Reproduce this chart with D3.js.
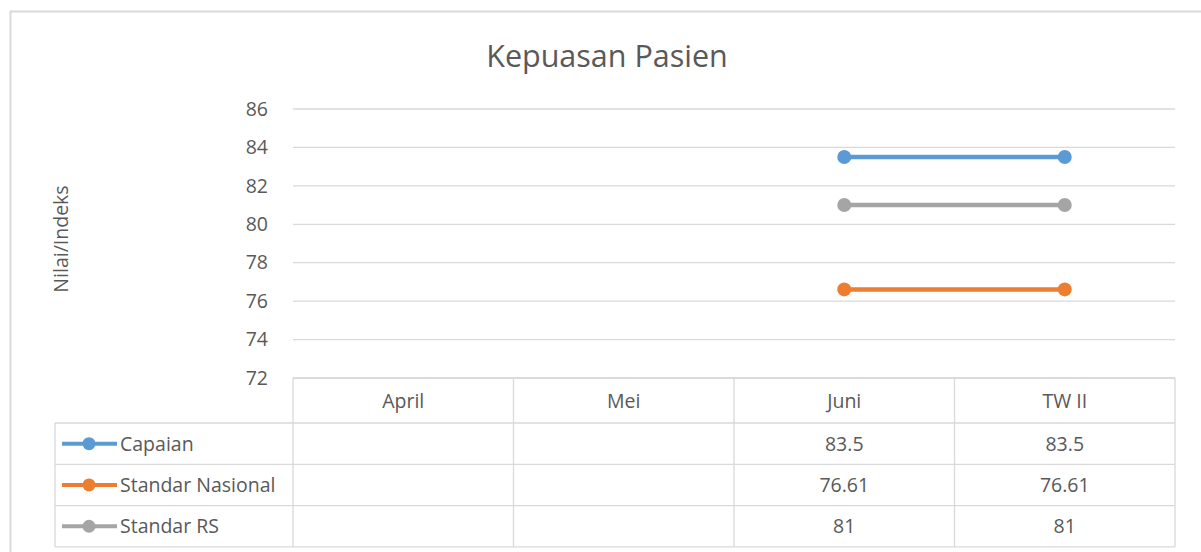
<!DOCTYPE html>
<html>
<head>
<meta charset="utf-8">
<script src="https://cdn.jsdelivr.net/npm/d3@7"></script>
<style>
  body { margin: 0; background: #fff; }
  svg { display: block; font-family: "Open Sans", sans-serif; }
  .grid line { stroke: #d9d9d9; stroke-width: 1.3; }
  .cell { stroke: #d9d9d9; stroke-width: 1.3; fill: none; }
</style>
</head>
<body>
<svg id="chart" width="1201" height="552"></svg>
<script>
// chart data
var categories = ["April", "Mei", "Juni", "TW II"];
var series_names = ["Capaian", "Standar Nasional", "Standar RS"];
var capaian = [null, null, 83.5, 83.5];
var standar_nasional = [null, null, 76.61, 76.61];
var standar_rs = [null, null, 81, 81];
var y_ticks = [72, 74, 76, 78, 80, 82, 84, 86];

var series = [
  {name: series_names[0], values: capaian, color: "#5b9bd5"},
  {name: series_names[1], values: standar_nasional, color: "#ed7d31"},
  {name: series_names[2], values: standar_rs, color: "#a5a5a5"}
];

var svg = d3.select("#chart");
var text_color = "#595959";
var fs = 19.5;

var plot = {left: 293, right: 1175, top: 109, bottom: 378};
var row_h = 41.3, header_h = 45, legend_left = 55;

// outer chart border (runs past the image edge)
svg.append("rect")
    .attr("x", 10.5).attr("y", 11.5)
    .attr("width", 1220).attr("height", 600)
    .attr("fill", "none").attr("stroke", "#d9d9d9").attr("stroke-width", 2);

svg.append("text")
    .attr("x", 607).attr("y", 67)
    .attr("text-anchor", "middle")
    .attr("font-size", 30.5)
    .attr("fill", text_color)
    .text("Kepuasan Pasien");

var x = d3.scaleBand()
    .domain(categories)
    .range([plot.left, plot.right]);

var y = d3.scaleLinear()
    .domain([72, 86])
    .range([plot.bottom, plot.top]);

// gridlines
svg.append("g").attr("class", "grid")
  .selectAll("line")
  .data(y_ticks)
  .enter().append("line")
    .attr("x1", plot.left).attr("x2", plot.right)
    .attr("y1", function(d) { return y(d); })
    .attr("y2", function(d) { return y(d); });

// y axis labels
var yAxis = d3.axisLeft(y).tickValues(y_ticks).tickSize(0).tickPadding(0);
var gy = svg.append("g")
    .attr("transform", "translate(268,0)")
    .call(yAxis);
gy.select(".domain").remove();
gy.selectAll("text")
    .attr("font-family", "Open Sans, sans-serif")
    .attr("font-size", fs)
    .attr("fill", text_color);

svg.append("text")
    .attr("transform", "translate(68,239) rotate(-90)")
    .attr("text-anchor", "middle")
    .attr("font-size", fs)
    .attr("fill", text_color)
    .text("Nilai/Indeks");

// data table
var table = svg.append("g");
var table_bottom = plot.bottom + header_h + row_h * series.length;

// horizontal lines
table.append("line").attr("class", "cell")
    .attr("x1", plot.left).attr("x2", plot.right)
    .attr("y1", plot.bottom).attr("y2", plot.bottom);
d3.range(series.length + 1).forEach(function(i) {
  var yy = plot.bottom + header_h + row_h * i;
  table.append("line").attr("class", "cell")
      .attr("x1", legend_left).attr("x2", plot.right)
      .attr("y1", yy).attr("y2", yy);
});

// vertical lines
var col_edges = categories.map(function(c) { return x(c); }).concat([plot.right]);
col_edges.forEach(function(xx) {
  table.append("line").attr("class", "cell")
      .attr("x1", xx).attr("x2", xx)
      .attr("y1", plot.bottom).attr("y2", table_bottom);
});
table.append("line").attr("class", "cell")
    .attr("x1", legend_left).attr("x2", legend_left)
    .attr("y1", plot.bottom + header_h).attr("y2", table_bottom);

// category header
table.selectAll(".cat")
  .data(categories)
  .enter().append("text")
    .attr("class", "cat")
    .attr("x", function(d) { return x(d) + x.bandwidth() / 2; })
    .attr("y", plot.bottom + header_h / 2 + 7)
    .attr("text-anchor", "middle")
    .attr("font-size", fs)
    .attr("fill", text_color)
    .text(function(d) { return d; });

// rows: legend key + values
series.forEach(function(s, i) {
  var cy = plot.bottom + header_h + row_h * i + row_h / 2;

  table.append("line")
      .attr("x1", 62).attr("x2", 117)
      .attr("y1", cy).attr("y2", cy)
      .attr("stroke", s.color).attr("stroke-width", 4);
  table.append("circle")
      .attr("cx", 89).attr("cy", cy).attr("r", 6.5)
      .attr("fill", s.color);
  table.append("text")
      .attr("x", 120).attr("y", cy + 7)
      .attr("font-size", fs)
      .attr("fill", text_color)
      .text(s.name);

  s.values.forEach(function(v, j) {
    if (v == null) return;
    table.append("text")
        .attr("x", x(categories[j]) + x.bandwidth() / 2)
        .attr("y", cy + 7)
        .attr("text-anchor", "middle")
        .attr("font-size", fs)
        .attr("fill", text_color)
        .text(v);
  });
});

// lines + markers
var line = d3.line()
    .defined(function(d) { return d.v != null; })
    .x(function(d) { return x(d.c) + x.bandwidth() / 2; })
    .y(function(d) { return y(d.v); });

series.forEach(function(s) {
  var pts = s.values.map(function(v, j) { return {c: categories[j], v: v}; });

  svg.append("path")
      .datum(pts)
      .attr("d", line)
      .attr("fill", "none")
      .attr("stroke", s.color)
      .attr("stroke-width", 4.5)
      .attr("stroke-linecap", "round");

  svg.append("g").selectAll("circle")
    .data(pts.filter(function(d) { return d.v != null; }))
    .enter().append("circle")
      .attr("cx", function(d) { return x(d.c) + x.bandwidth() / 2; })
      .attr("cy", function(d) { return y(d.v); })
      .attr("r", 7)
      .attr("fill", s.color);
});
</script>
</body>
</html>
